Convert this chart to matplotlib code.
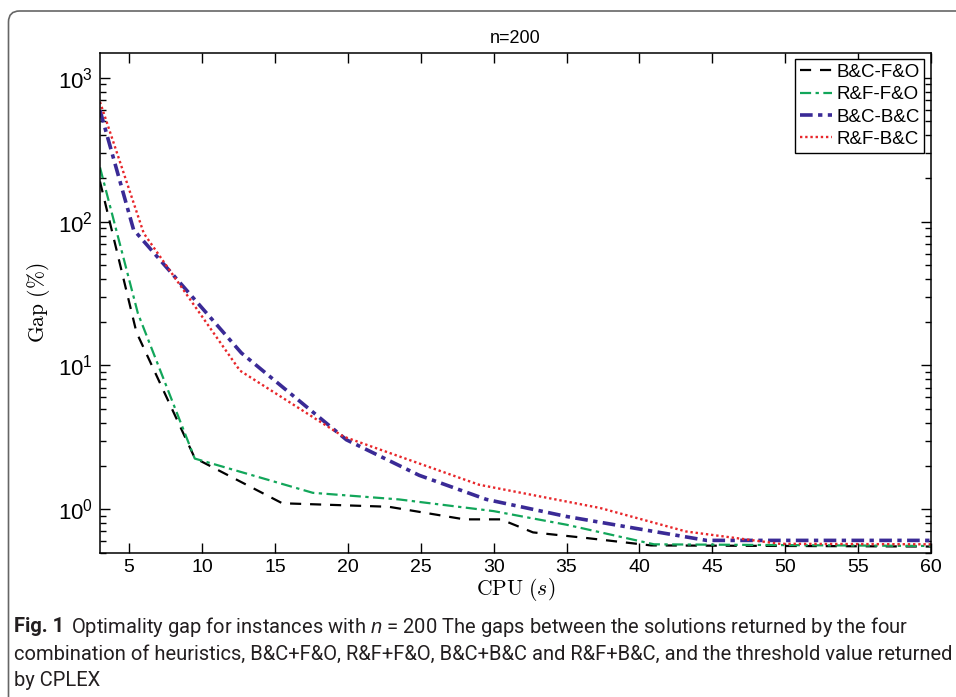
import matplotlib
matplotlib.use('Agg')
import matplotlib.pyplot as plt
import numpy as np
from matplotlib.patches import FancyBboxPatch
from matplotlib.transforms import IdentityTransform
from matplotlib.ticker import LogLocator, NullFormatter, FixedLocator

plt.rcParams['font.family'] = ['Liberation Sans', 'DejaVu Sans']
plt.rcParams['mathtext.fontset'] = 'custom'
plt.rcParams['mathtext.rm'] = 'Liberation Sans'
plt.rcParams['mathtext.it'] = 'Liberation Sans:italic'

# 数据
x_bc_fo = [3, 5.5, 9.5, 15.5, 22.8, 28.0, 30.5, 32.7, 36.4, 40.8, 60]
y_bc_fo = [190, 17, 2.27, 1.10, 1.04, 0.85, 0.85, 0.69, 0.63, 0.56, 0.55]

x_rf_fo = [3, 5.6, 9.5, 17.6, 23.5, 30.0, 35.0, 41.0, 60]
y_rf_fo = [238, 23, 2.25, 1.30, 1.17, 0.97, 0.78, 0.57, 0.555]

x_bc_bc = [3, 5.3, 12.7, 19.9, 24.9, 29.5, 35.0, 39.6, 44.6, 60]
y_bc_bc = [595, 88, 12.2, 3.04, 1.72, 1.17, 0.89, 0.74, 0.607, 0.607]

x_rf_bc = [3, 6.0, 12.6, 19.7, 29.0, 37.3, 43.2, 49.6, 60]
y_rf_bc = [680, 83, 9.2, 3.2, 1.48, 1.02, 0.70, 0.575, 0.57]

xticks = [5, 10, 15, 20, 25, 30, 35, 40, 45, 50, 55, 60]

fig = plt.figure(figsize=(9.56, 6.97), dpi=100)
ax = fig.add_axes([100 / 956, 1 - 552.5 / 697, 831 / 956, 500 / 697])

ax.plot(x_bc_fo, y_bc_fo, color='black', ls=(0, (5, 4)), lw=1.6, label='B&C-F&O')
ax.plot(x_rf_fo, y_rf_fo, color='#12a65a', ls=(0, (5, 2, 1.5, 2)), lw=1.6, label='R&F-F&O')
ax.plot(x_bc_bc, y_bc_bc, color='#3a2a96', ls=(0, (3.5, 1.5, 1.2, 1.5)), lw=2.6, label='B&C-B&C')
ax.plot(x_rf_bc, y_rf_bc, color='#e8262a', ls=(0, (1, 1.2)), lw=1.7, label='R&F-B&C')

ax.set_yscale('log')
ax.set_xlim(3, 60)
ax.set_ylim(0.5, 1500)
ax.xaxis.set_major_locator(FixedLocator(xticks))
ax.yaxis.set_major_locator(LogLocator(base=10, numticks=10))
ax.yaxis.set_minor_locator(LogLocator(base=10, subs=np.arange(2, 10), numticks=20))
ax.yaxis.set_minor_formatter(NullFormatter())

ax.tick_params(which='both', direction='in', top=True, right=True, width=1)
ax.tick_params(which='major', length=7)
ax.tick_params(which='minor', length=4)
ax.tick_params(axis='x', pad=5, labelsize=14)
ax.tick_params(axis='y', pad=5, labelsize=16)
for s in ax.spines.values():
    s.set_linewidth(1.1)

ax.set_xlabel(r'$\mathrm{CPU}\ (s)$', fontsize=15.5, math_fontfamily='cm', labelpad=0)
ax.set_ylabel(r'$\mathrm{Gap}\ (\%)$', fontsize=15.5, math_fontfamily='cm', labelpad=4)
ax.set_title('n=200', fontsize=13, pad=7)

leg = ax.legend(loc='upper right', fontsize=13.5, handlelength=1.7, handletextpad=0.25,
                borderpad=0.25, labelspacing=0.28, fancybox=False, framealpha=1,
                borderaxespad=0.35)
leg.get_frame().set_edgecolor('black')
leg.get_frame().set_linewidth(1)

# 外框
border = FancyBboxPatch((8.5, -30), 1000, 697 - 11 + 30,
                        boxstyle='round,pad=0,rounding_size=11',
                        transform=IdentityTransform(), fill=False,
                        edgecolor='#666666', lw=1.2)
fig.patches.append(border)

# 图注
cap_font = ['Roboto', 'DejaVu Sans']
cap_size = 14.5
fig.text(14 / 956, 1 - 627 / 697, 'Fig. 1', fontsize=cap_size, fontweight='bold',
         family=cap_font, va='center', color='#231f20')
fig.text(71 / 956, 1 - 627 / 697,
         'Optimality gap for instances with $n$ = 200 The gaps between the solutions returned by the four',
         fontsize=cap_size, family=cap_font, va='center', color='#231f20')
fig.text(14 / 956, 1 - 654 / 697,
         'combination of heuristics, B&C+F&O, R&F+F&O, B&C+B&C and R&F+B&C, and the threshold value returned',
         fontsize=cap_size, family=cap_font, va='center', color='#231f20')
fig.text(14 / 956, 1 - 680 / 697, 'by CPLEX',
         fontsize=cap_size, family=cap_font, va='center', color='#231f20')

fig.savefig('out.png', dpi=100)
